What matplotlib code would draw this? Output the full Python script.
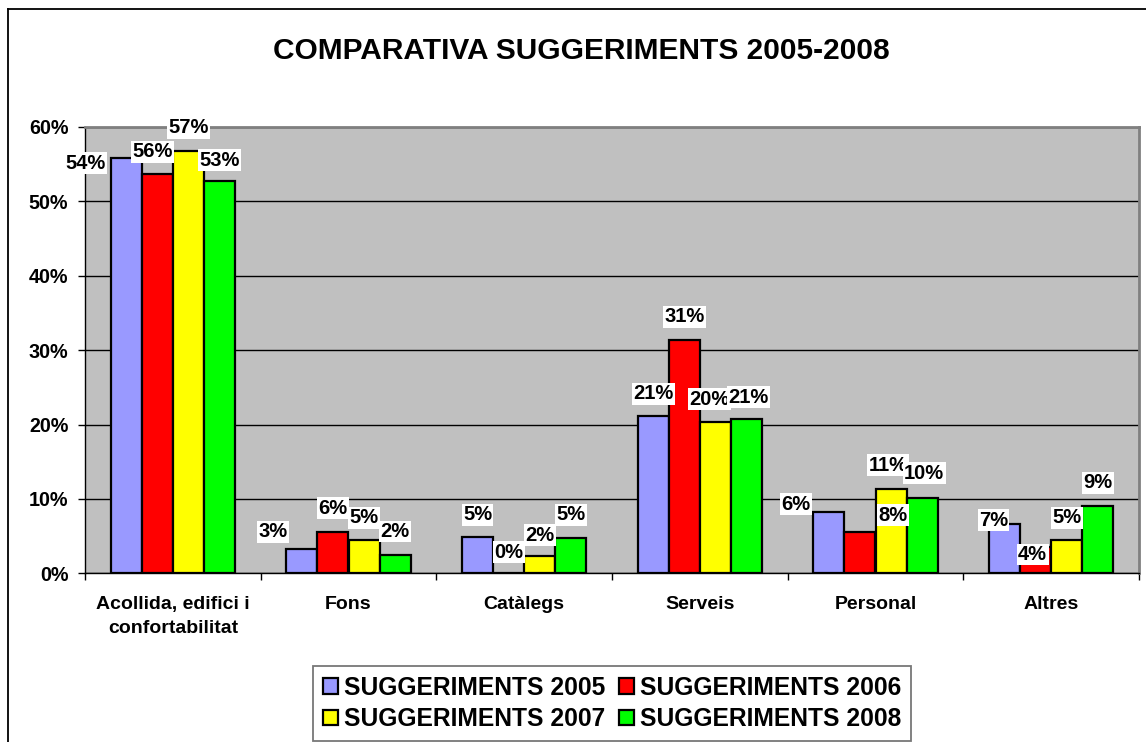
import matplotlib
matplotlib.use("Agg")
import matplotlib.pyplot as plt
import numpy as np
from matplotlib.lines import Line2D

plt.rcParams['font.family'] = ['Liberation Sans', 'DejaVu Sans']
plt.rcParams['font.weight'] = 'bold'

categories = ["Acollida, edifici i\nconfortabilitat", "Fons", "Catàlegs", "Serveis", "Personal", "Altres"]
series_names = ["SUGGERIMENTS 2005", "SUGGERIMENTS 2006", "SUGGERIMENTS 2007", "SUGGERIMENTS 2008"]
s2005 = [0.558, 0.033, 0.049, 0.212, 0.082, 0.066]
s2006 = [0.537, 0.055, 0.000, 0.314, 0.055, 0.036]
s2007 = [0.568, 0.045, 0.023, 0.203, 0.113, 0.045]
s2008 = [0.527, 0.024, 0.048, 0.207, 0.101, 0.091]
labels2005 = ["54%", "3%", "5%", "21%", "6%", "7%"]
labels2006 = ["56%", "6%", "0%", "31%", "8%", "4%"]
labels2007 = ["57%", "5%", "2%", "20%", "11%", "5%"]
labels2008 = ["53%", "2%", "5%", "21%", "10%", "9%"]
yticks = [0, 0.1, 0.2, 0.3, 0.4, 0.5, 0.6]
ytick_labels = ["0%", "10%", "20%", "30%", "40%", "50%", "60%"]
title = "COMPARATIVA SUGGERIMENTS 2005-2008"

colors = ["#9999FF", "#FF0000", "#FFFF00", "#00FF00"]
# label offsets in pixels (dx, dy up) for manually moved labels; default (0, 22)
label_offsets = [
    [(-41, -5), (-5, 22), (0, 23), (0, 21)],
    [(-29, 17), (0, 24), (0, 22), (0, 24)],
    [(0, 22), (0, 21), (0, 21), (0, 23)],
    [(0, 22), (0, 23), (-6, 23), (2, 22)],
    [(-33, 8), (33, 17), (-3, 24), (2, 25)],
    [(-11, 4), (-3, -8), (0, 22), (0, 23)],
]

W, H = 1146, 742
dpi = 100
fig = plt.figure(figsize=(W / dpi, H / dpi), dpi=dpi)
fig.patch.set_facecolor("white")

# outer chart frame (clipped at right and bottom)
fig.add_artist(Line2D([8 / W, 8 / W], [0, 1 - 9 / H], color="black", lw=1.3, transform=fig.transFigure))
fig.add_artist(Line2D([8 / W, 1], [1 - 9 / H, 1 - 9 / H], color="black", lw=1.3, transform=fig.transFigure))

left, right, top, bottom = 85, 1139, 127, 573.3
ax = fig.add_axes([left / W, 1 - bottom / H, (right - left) / W, (bottom - top) / H])
ax.set_facecolor("#C0C0C0")

series = [s2005, s2006, s2007, s2008]
labels = [labels2005, labels2006, labels2007, labels2008]
x = np.arange(len(categories))
w = 0.177
px_to_pt = 72 / dpi
for j, (vals, col, name) in enumerate(zip(series, colors, series_names)):
    xs = x + (j - 1.5) * w
    ax.bar(xs, vals, width=w, color=col, edgecolor="black", linewidth=1.6, label=name, zorder=3)
    for i, (xx, v) in enumerate(zip(xs, vals)):
        dx, dy = label_offsets[i][j]
        ax.annotate(labels[j][i], xy=(xx, v), xytext=(dx * px_to_pt, dy * px_to_pt),
                    textcoords="offset points", ha="center", va="center",
                    fontsize=14.5, fontweight="bold", zorder=5,
                    bbox=dict(boxstyle="square,pad=0.07", fc="white", ec="none"))

ax.set_xlim(-0.5, len(categories) - 0.5)
ax.set_ylim(0, 0.6)
ax.set_yticks(yticks)
ax.set_yticklabels(ytick_labels, fontsize=14.2, fontweight="bold")
ax.yaxis.grid(True, color="black", linewidth=1.0, zorder=1)
ax.set_axisbelow(True)

ax.set_xticks(x)
ax.set_xticklabels(categories, fontsize=14, fontweight="bold", linespacing=1.55)
ax.set_xticks(np.arange(len(categories) + 1) - 0.5, minor=True)
ax.tick_params(axis="x", which="major", length=0, pad=16)
ax.tick_params(axis="x", which="minor", length=5, width=1, direction="out", color="black")
ax.tick_params(axis="y", length=5, width=1, direction="out", pad=7, color="black")

for s in ["top", "right"]:
    ax.spines[s].set_color("#808080")
    ax.spines[s].set_linewidth(2)
for s in ["left", "bottom"]:
    ax.spines[s].set_color("black")
    ax.spines[s].set_linewidth(1)

fig.text(581 / W, 1 - 51 / H, title, ha="center", va="center", fontsize=21.5, fontweight="bold")

h, l = ax.get_legend_handles_labels()
order = [0, 2, 1, 3]
leg = fig.legend([h[k] for k in order], [l[k] for k in order], ncol=2,
                 loc="upper center", bbox_to_anchor=(612 / W, 1 - 666 / H),
                 prop=dict(size=17.7, weight="bold"), frameon=True, fancybox=False,
                 handlelength=0.6, handleheight=0.6, handletextpad=0.25,
                 columnspacing=0.55, labelspacing=0.3, borderpad=0.4, borderaxespad=0)
leg.get_frame().set_edgecolor("#555555")
leg.get_frame().set_linewidth(1.3)

fig.savefig("out.png", dpi=dpi, facecolor="white")
